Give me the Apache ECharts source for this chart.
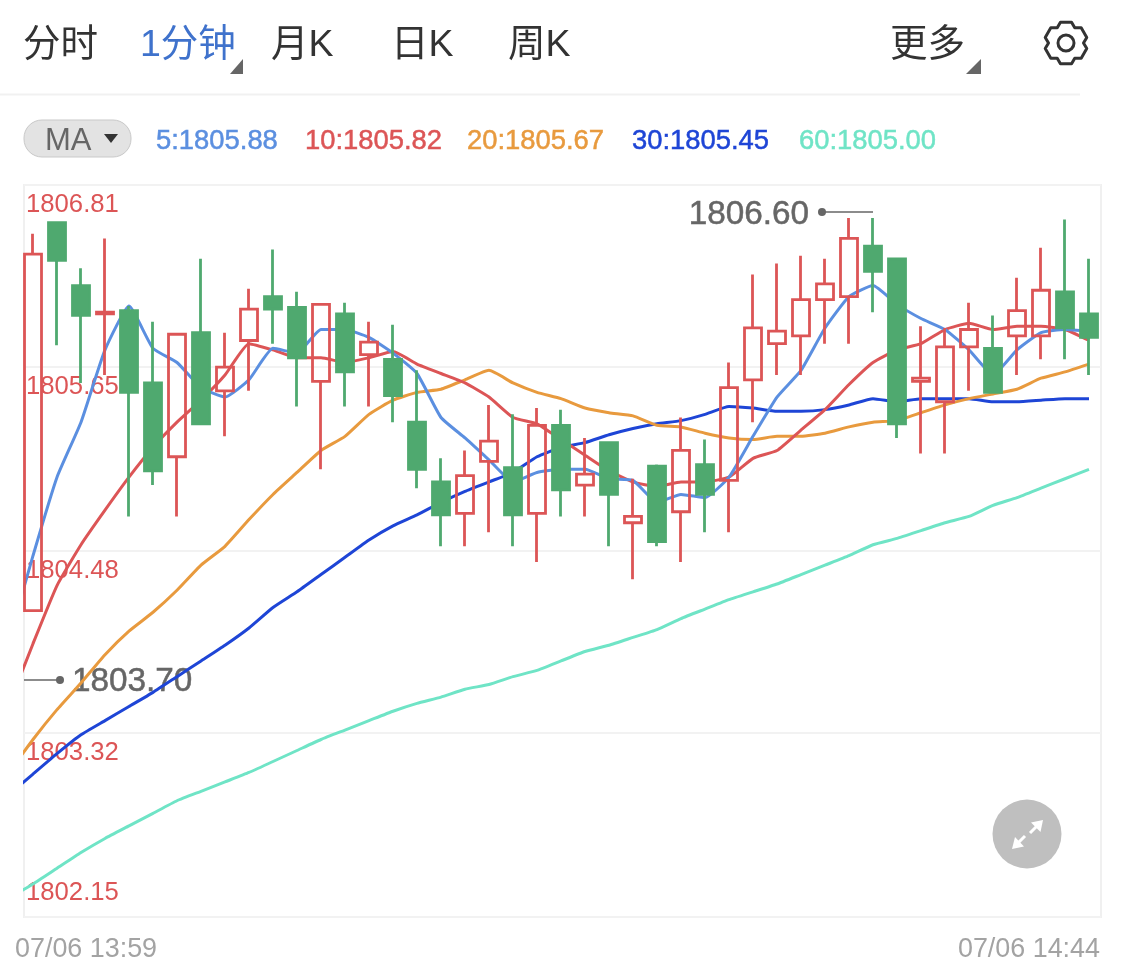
<!DOCTYPE html>
<html>
<head>
<meta charset="utf-8">
<style>html,body{margin:0;padding:0;background:#fff}#c{width:1125px;height:971px}</style>
<script src="https://cdn.jsdelivr.net/npm/echarts@6/dist/echarts.min.js"></script>
</head>
<body>
<div id="c"></div>
<script>
// open, close, low, high
var candles = [
[1804.10,1806.37,1804.10,1806.50],[1806.57,1806.33,1805.79,1806.58],[1806.17,1805.98,1805.55,1806.28],
[1805.99,1806.00,1805.60,1806.47],[1806.01,1805.49,1804.70,1806.04],[1805.55,1804.99,1804.90,1805.94],
[1805.08,1805.86,1804.70,1805.86],[1805.87,1805.29,1805.29,1806.34],[1805.50,1805.65,1805.21,1805.87],
[1805.82,1806.02,1805.50,1806.15],[1806.10,1806.02,1805.80,1806.40],[1806.03,1805.71,1805.40,1806.13],
[1805.56,1806.05,1805.00,1806.05],[1805.99,1805.62,1805.40,1806.06],[1805.73,1805.81,1805.40,1805.94],
[1805.70,1805.47,1805.30,1805.92],[1805.30,1805.00,1804.88,1805.63],[1804.92,1804.71,1804.51,1805.07],
[1804.72,1804.96,1804.51,1805.12],[1805.05,1805.18,1804.60,1805.41],[1805.01,1804.71,1804.51,1805.35],
[1804.72,1805.28,1804.41,1805.39],[1805.28,1804.87,1804.70,1805.38],[1804.90,1804.97,1804.70,1805.20],
[1805.17,1804.84,1804.51,1805.17],[1804.66,1804.70,1804.30,1804.94],[1805.02,1804.54,1804.51,1805.03],
[1804.73,1805.12,1804.41,1805.33],[1805.03,1804.84,1804.60,1805.19],[1804.93,1805.52,1804.60,1805.68],
[1805.57,1805.90,1805.30,1806.24],[1805.80,1805.88,1805.60,1806.31],[1805.85,1806.08,1805.60,1806.36],
[1806.08,1806.18,1805.80,1806.34],[1806.10,1806.47,1805.80,1806.60],[1806.42,1806.26,1806.00,1806.60],
[1806.34,1805.29,1805.20,1806.34],[1805.56,1805.58,1805.10,1805.91],[1805.43,1805.78,1805.10,1805.90],
[1805.78,1805.89,1805.50,1806.06],[1805.77,1805.49,1805.49,1805.98],[1805.85,1806.01,1805.60,1806.22],
[1805.85,1806.14,1805.70,1806.41],[1806.13,1805.90,1805.70,1806.59],[1805.99,1805.84,1805.60,1806.34]
];
// MA values start one minute before the first visible candle
var ma5 = [1803.91,1804.45,1804.95,1805.30,1805.76,1806.04,1805.77,1805.68,1805.52,1805.46,1805.57,1805.77,1805.74,1805.89,1805.89,1805.84,1805.74,1805.61,1805.33,1805.20,1805.06,1804.92,1804.98,1805.00,1805.00,1804.94,1804.93,1804.79,1804.84,1804.82,1804.95,1805.21,1805.46,1805.63,1805.90,1806.10,1806.17,1806.05,1805.96,1805.89,1805.76,1805.60,1805.76,1805.87,1805.89,1805.88];
var ma10 = [1803.50,1803.89,1804.26,1804.52,1804.74,1804.95,1805.14,1805.30,1805.44,1805.60,1805.80,1805.76,1805.71,1805.71,1805.68,1805.71,1805.75,1805.67,1805.61,1805.55,1805.46,1805.33,1805.29,1805.19,1805.09,1804.99,1804.92,1804.89,1804.92,1804.92,1804.95,1805.07,1805.12,1805.25,1805.38,1805.54,1805.68,1805.76,1805.80,1805.89,1805.93,1805.89,1805.91,1805.91,1805.89,1805.82];
var ma20 = [1803.07,1803.28,1803.47,1803.64,1803.82,1803.97,1804.09,1804.23,1804.39,1804.51,1804.68,1804.84,1804.98,1805.12,1805.21,1805.35,1805.44,1805.49,1805.51,1805.57,1805.63,1805.55,1805.49,1805.45,1805.39,1805.36,1805.34,1805.28,1805.27,1805.23,1805.20,1805.19,1805.21,1805.21,1805.23,1805.27,1805.30,1805.31,1805.36,1805.41,1805.45,1805.48,1805.51,1805.58,1805.62,1805.67];
var ma30 = [1802.93,1803.06,1803.19,1803.31,1803.40,1803.49,1803.58,1803.68,1803.78,1803.88,1803.99,1804.12,1804.22,1804.33,1804.44,1804.55,1804.64,1804.71,1804.79,1804.86,1804.92,1804.98,1805.08,1805.14,1805.17,1805.22,1805.26,1805.29,1805.31,1805.35,1805.40,1805.39,1805.37,1805.37,1805.38,1805.41,1805.45,1805.43,1805.45,1805.45,1805.45,1805.43,1805.43,1805.44,1805.45,1805.45];
var ma60 = [1802.27,1802.36,1802.46,1802.56,1802.65,1802.73,1802.81,1802.89,1802.95,1803.01,1803.07,1803.14,1803.21,1803.28,1803.34,1803.40,1803.46,1803.51,1803.55,1803.60,1803.63,1803.68,1803.72,1803.78,1803.84,1803.88,1803.93,1803.98,1804.05,1804.11,1804.17,1804.22,1804.27,1804.33,1804.39,1804.45,1804.52,1804.56,1804.61,1804.66,1804.70,1804.77,1804.82,1804.88,1804.94,1805.00];
var yTicks = [1802.15,1803.32,1804.48,1805.65,1806.81];
var tabs = ['分时','1分钟','月K','日K','周K','更多'];
var maNames = ['5:1805.88','10:1805.82','20:1805.67','30:1805.45','60:1805.00'];
var xEnds = ['07/06 13:59','07/06 14:44'];
var highLabel = '1806.60', lowLabel = '1803.70';
var categories = candles.map(function (_, i) { return i; });

var RED = '#dc5556', GREEN = '#4fa96f', SANS = '"Liberation Sans",Arial,sans-serif';
var CJK = '"Liberation Sans","Noto Sans CJK SC",sans-serif';
var maColors = ['#5b8fe0', RED, '#e89a3e', '#1e45d6', '#6fe4c6'];
var yMin = yTicks[0], yMax = yTicks[4];
var minLabelAnchor = 1802.43;

function lineSeries(name, values, color) {
  return {
    name: name, type: 'line', xAxisIndex: 0, yAxisIndex: 0, z: 3, symbol: 'none', silent: true, smooth: 0.15,
    data: values.map(function (v, i) { return [i - 1, v]; }),
    lineStyle: { color: color, width: 3 }
  };
}
function markerSeries(name, from, to, y, text, pos, dx, dy) {
  return {
    name: name, type: 'line', xAxisIndex: 0, yAxisIndex: 0, z: 2, silent: true, showSymbol: true, clip: false,
    lineStyle: { color: '#666', width: 1.5 },
    data: [
      { value: [from, y], symbol: 'none' },
      { value: [to, y], symbol: 'circle', symbolSize: 8, itemStyle: { color: '#666' },
        label: { show: true, position: pos, distance: 8, offset: [dx, dy], formatter: text, color: '#666', fontSize: 33.3, fontFamily: SANS,
          textBorderColor: '#666', textBorderWidth: 0.5 } }
    ]
  };
}

var tabX = [23, 140, 271, 391, 508, 890];
var graphics = [];
// keeps the moving-average lines inside the plot's left edge
graphics.push({ type: 'rect', z: 9, shape: { x: 0, y: 186, width: 23, height: 730 }, style: { fill: '#fff' } });
tabs.forEach(function (t, i) {
  graphics.push({ type: 'text', x: tabX[i], y: 46, z: 10,
    style: { text: t, font: '37.5px ' + CJK, fill: i === 1 ? '#3f72cc' : '#333', verticalAlign: 'middle' } });
});
[[243, 230], [981, 966]].forEach(function (p) {
  graphics.push({ type: 'polygon', z: 10, shape: { points: [[p[0], 59], [p[0], 74], [p[1], 74]] }, style: { fill: '#666' } });
});
// gear icon
var gear = [];
for (var k = 0; k < 6; k++) {
  var a = (-90 + k * 60) * Math.PI / 180, d = 15 * Math.PI / 180, e = 30 * Math.PI / 180;
  gear.push([1066 + 21.5 * Math.cos(a - d), 43 + 21.5 * Math.sin(a - d)]);
  gear.push([1066 + 21.5 * Math.cos(a + d), 43 + 21.5 * Math.sin(a + d)]);
  gear.push([1066 + 17.5 * Math.cos(a + e), 43 + 17.5 * Math.sin(a + e)]);
}
graphics.push({ type: 'polygon', z: 10, shape: { points: gear }, style: { fill: 'none', stroke: '#333', lineWidth: 3, lineJoin: 'round' } });
graphics.push({ type: 'circle', z: 10, shape: { cx: 1066, cy: 43, r: 8 }, style: { fill: 'none', stroke: '#333', lineWidth: 3 } });
graphics.push({ type: 'line', z: 10, shape: { x1: 0, y1: 94.5, x2: 1080, y2: 94.5 }, style: { stroke: '#f1f1f1', lineWidth: 2 } });
// MA pill
graphics.push({ type: 'rect', z: 10, shape: { x: 24, y: 120, width: 107, height: 37, r: 18 }, style: { fill: '#e3e3e3', stroke: '#c9c9c9', lineWidth: 1 } });
graphics.push({ type: 'text', z: 11, x: 45, y: 141, style: { text: 'MA', font: '31px ' + SANS, fill: '#666', verticalAlign: 'middle' } });
graphics.push({ type: 'polygon', z: 11, shape: { points: [[104, 134], [118, 134], [111, 143]] }, style: { fill: '#333' } });
var maX = [156, 305, 467, 632, 799];
maNames.forEach(function (t, i) {
  graphics.push({ type: 'text', z: 10, x: maX[i], y: 141, style: { text: t, font: '27.4px ' + SANS, fill: maColors[i], stroke: maColors[i], lineWidth: 0.5, verticalAlign: 'middle' } });
});
// bottom time labels
graphics.push({ type: 'text', z: 10, x: 15, y: 950, style: { text: xEnds[0], font: '26.9px ' + SANS, fill: '#a3a3a3', verticalAlign: 'middle' } });
graphics.push({ type: 'text', z: 10, x: 1100, y: 950, style: { text: xEnds[1], font: '26.9px ' + SANS, fill: '#a3a3a3', align: 'right', verticalAlign: 'middle' } });
// expand button
graphics.push({ type: 'circle', z: 10, shape: { cx: 1027, cy: 834, r: 34.5 }, style: { fill: '#bfbfbf' } });
graphics.push({ type: 'polygon', z: 11, shape: { points: [[1043, 820], [1031, 822.5], [1040.5, 832]] }, style: { fill: '#fff' } });
graphics.push({ type: 'polygon', z: 11, shape: { points: [[1012, 849], [1015, 837], [1024, 846.5]] }, style: { fill: '#fff' } });
graphics.push({ type: 'line', z: 11, shape: { x1: 1037, y1: 826, x2: 1030, y2: 833 }, style: { stroke: '#fff', lineWidth: 3 } });
graphics.push({ type: 'line', z: 11, shape: { x1: 1018, y1: 843, x2: 1025, y2: 836 }, style: { stroke: '#fff', lineWidth: 3 } });

var chart = echarts.init(document.getElementById('c'), null, { renderer: 'canvas' });
chart.setOption({
  animation: false,
  backgroundColor: '#fff',
  graphic: { elements: graphics },
  tooltip: { show: false },
  grid: [
    { left: 24, right: 24, top: 185, bottom: 54, show: true, borderColor: '#f0f0f0', borderWidth: 2, backgroundColor: 'transparent' },
    { left: 21, right: 24, top: 185, bottom: 54, show: false }
  ],
  xAxis: [
    { type: 'value', gridIndex: 0, min: -0.375, max: 44.5, show: false },
    { type: 'category', gridIndex: 1, data: categories, show: false }
  ],
  yAxis: [
    { type: 'value', gridIndex: 0, min: yMin, max: yMax, position: 'left',
      axisLine: { show: false },
      axisTick: { show: false, customValues: yTicks },
      splitLine: { show: true, lineStyle: { color: '#f2f2f2', width: 2 } },
      axisLabel: { inside: true, margin: 2, fontSize: 25.7, lineHeight: 39, fontFamily: SANS, color: RED, verticalAlign: 'top',
        customValues: [minLabelAnchor].concat(yTicks.slice(1)),
        formatter: function (v) { return (v === minLabelAnchor ? yTicks[0] : v).toFixed(2); } } },
    { type: 'value', gridIndex: 1, min: yMin, max: yMax, show: false, splitLine: { show: false } }
  ],
  series: [
    markerSeries('high', 35, 32.875, 1806.638, highLabel, 'left', -1, 3),
    markerSeries('low', -0.375, 1.125, 1803.659, lowLabel, 'right', 0, 2),
    lineSeries('MA60', ma60, maColors[4]),
    lineSeries('MA30', ma30, maColors[3]),
    lineSeries('MA20', ma20, maColors[2]),
    lineSeries('MA10', ma10, maColors[1]),
    lineSeries('MA5', ma5, maColors[0]),
    { name: 'K', type: 'candlestick', xAxisIndex: 1, yAxisIndex: 1, z: 4, silent: true, barWidth: 18,
      data: candles,
      itemStyle: { color: 'transparent', color0: GREEN, borderColor: RED, borderColor0: GREEN, borderWidth: 2.8 } }
  ]
});
</script>
</body>
</html>
